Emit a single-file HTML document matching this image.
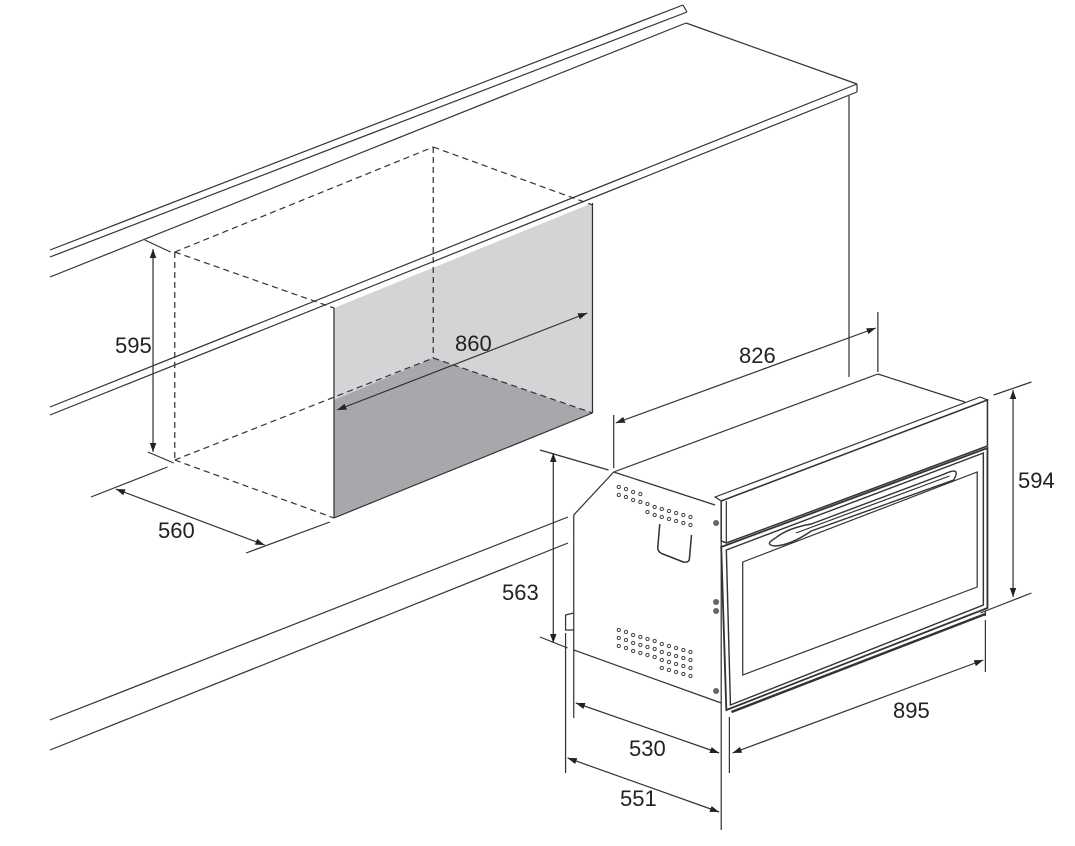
<!DOCTYPE html>
<html><head><meta charset="utf-8"><style>
html,body{margin:0;padding:0;background:#fff;}
svg{display:block;}
text{font-family:"Liberation Sans",Arial,sans-serif;font-size:22px;fill:#222;}
</style></head><body>
<svg width="1075" height="846" viewBox="0 0 1075 846" xmlns="http://www.w3.org/2000/svg">
<defs>
<marker id="a" viewBox="0 0 10 10" refX="10" refY="5" markerWidth="9" markerHeight="9" orient="auto-start-reverse" markerUnits="userSpaceOnUse"><path d="M0,1.5 L10,5 L0,8.5 Z" fill="#222"/></marker>
</defs>
<g stroke="#333" stroke-width="1.2" fill="none" transform="matrix(1.034 0 0 1 0 0)">
<polygon points="323,308 573,203 573,413 419,358 323,400" fill="#d3d4d6" stroke="none"/>
<polygon points="323,400 419,358 573,413 323,518" fill="#a7a8ab" stroke="none"/>
<line x1="323" y1="308" x2="323" y2="518"/>
<line x1="573" y1="203" x2="573" y2="413"/>
<line x1="573" y1="413" x2="323" y2="518"/>
<g stroke-dasharray="6,4">
<line x1="169" y1="252" x2="419" y2="147"/>
<line x1="419" y1="147" x2="573" y2="205"/>
<line x1="169" y1="252" x2="323" y2="308"/>
<line x1="419" y1="147" x2="419" y2="358"/>
<line x1="169" y1="252" x2="169" y2="460"/>
<line x1="169" y1="460" x2="323" y2="518"/>
<line x1="169" y1="460" x2="419" y2="358"/>
<line x1="419" y1="358" x2="573" y2="413"/>
</g>
<line x1="140" y1="240" x2="165" y2="252"/>
<line x1="143" y1="452" x2="168" y2="463"/>
<line x1="148" y1="249" x2="148" y2="452" marker-start="url(#a)" marker-end="url(#a)"/>
<line x1="88" y1="497" x2="162" y2="467"/>
<line x1="238" y1="553" x2="319" y2="522"/>
<line x1="112" y1="489" x2="256" y2="545" marker-start="url(#a)" marker-end="url(#a)"/>
<line x1="326" y1="410" x2="568" y2="313" marker-start="url(#a)" marker-end="url(#a)"/>
</g>
<g stroke="#333" stroke-width="1.2" fill="none">
<line x1="50" y1="250" x2="683" y2="5"/>
<line x1="50" y1="257" x2="687" y2="12"/>
<line x1="683" y1="5" x2="687" y2="12"/>
<line x1="50" y1="277" x2="686" y2="23"/>
<line x1="686" y1="23" x2="857" y2="84"/>
<line x1="857" y1="84" x2="857" y2="92"/>
<line x1="857" y1="84" x2="50" y2="407"/>
<line x1="857" y1="92" x2="50" y2="415"/>
<line x1="849" y1="96" x2="849" y2="377"/>
<line x1="568" y1="517" x2="50" y2="720"/>
<line x1="568" y1="543" x2="50" y2="750"/>
</g>
<g stroke="#333" stroke-width="1.2" fill="none" transform="matrix(1.024 0 0 1 -13 0)">
<line x1="870" y1="312" x2="870" y2="372"/>
<line x1="612" y1="415" x2="612" y2="468"/>
<line x1="614" y1="423" x2="868" y2="328" marker-start="url(#a)" marker-end="url(#a)"/>
<line x1="612" y1="472" x2="870" y2="374"/>
<line x1="870" y1="374" x2="955" y2="402"/>
<polyline points="612,472 573,515 573,650 717,703"/>
<line x1="612" y1="472" x2="711" y2="505"/>
<line x1="717" y1="503" x2="717" y2="703"/>
<polyline points="573,613 565,615 565,630 573,630"/>
<polygon points="711,497 970,397 977,400 717,501" fill="#fff"/>
<polygon points="717,501 977,400 977,446 722,543 717,541" fill="#fff" stroke-width="1.5"/>
<line x1="722" y1="501" x2="722" y2="543"/>
<polygon points="717,547 977,448 977,608 722,710" fill="#fff" stroke-width="1.8"/>
<polygon points="722,550 973,453 973,605 726,705" stroke-width="1.4"/>
<polygon points="738,562 967,472 967,587 738,675"/>
<line x1="727" y1="712" x2="975" y2="614" stroke-width="2.4"/>
<line x1="975" y1="611" x2="975" y2="616"/>
<path d="M770,538 Q782,528 805,524 L935,474 Q952,466 944,480 L805,531 Q785,545 770,546 Q758,545 770,538 Z" fill="#fff" stroke-width="1.4"/>
<path d="M790,533 L940,476"/>
<path d="M657,524 L655,548 Q655,552 660,554 L680,562 Q686,563 686,558 L688,535" stroke-width="1.5"/>
<g fill="#666" stroke="none">
<circle cx="712" cy="523" r="3"/><circle cx="712" cy="602" r="3"/><circle cx="712" cy="611" r="3"/><circle cx="712" cy="691" r="3"/>
</g>
<line x1="983" y1="395" x2="1020" y2="382"/>
<line x1="970" y1="613" x2="1020" y2="593"/>
<line x1="1002" y1="390" x2="1002" y2="597" marker-start="url(#a)" marker-end="url(#a)"/>
<line x1="540" y1="450" x2="607" y2="470"/>
<line x1="540" y1="637" x2="567" y2="648"/>
<line x1="553" y1="453" x2="553" y2="643" marker-start="url(#a)" marker-end="url(#a)"/>
<line x1="725" y1="717" x2="725" y2="773"/>
<line x1="975" y1="620" x2="975" y2="672"/>
<line x1="728" y1="753" x2="973" y2="660" marker-start="url(#a)" marker-end="url(#a)"/>
<line x1="573" y1="650" x2="573" y2="718"/>
<line x1="575" y1="703" x2="715" y2="753" marker-start="url(#a)" marker-end="url(#a)"/>
<line x1="565" y1="633" x2="565" y2="773"/>
<line x1="717" y1="703" x2="717" y2="830"/>
<line x1="567" y1="758" x2="715" y2="812" marker-start="url(#a)" marker-end="url(#a)"/>
<g stroke="#444" stroke-width="1">
<circle cx="617" cy="487" r="1.6"/><circle cx="624" cy="489" r="1.6"/><circle cx="631" cy="492" r="1.6"/><circle cx="638" cy="494" r="1.6"/>
<circle cx="617" cy="495" r="1.6"/><circle cx="624" cy="497" r="1.6"/><circle cx="631" cy="500" r="1.6"/><circle cx="638" cy="502" r="1.6"/><circle cx="645" cy="504" r="1.6"/><circle cx="652" cy="507" r="1.6"/><circle cx="659" cy="509" r="1.6"/><circle cx="666" cy="511" r="1.6"/><circle cx="673" cy="513" r="1.6"/><circle cx="680" cy="515" r="1.6"/><circle cx="687" cy="517" r="1.6"/>
<circle cx="645" cy="512" r="1.6"/><circle cx="652" cy="515" r="1.6"/><circle cx="659" cy="517" r="1.6"/><circle cx="666" cy="519" r="1.6"/><circle cx="673" cy="521" r="1.6"/><circle cx="680" cy="523" r="1.6"/><circle cx="687" cy="525" r="1.6"/>
<circle cx="617" cy="630" r="1.6"/><circle cx="624" cy="632" r="1.6"/><circle cx="631" cy="635" r="1.6"/><circle cx="638" cy="637" r="1.6"/><circle cx="645" cy="639" r="1.6"/><circle cx="652" cy="641" r="1.6"/><circle cx="659" cy="644" r="1.6"/><circle cx="666" cy="646" r="1.6"/><circle cx="673" cy="648" r="1.6"/><circle cx="680" cy="650" r="1.6"/><circle cx="687" cy="652" r="1.6"/>
<circle cx="617" cy="638" r="1.6"/><circle cx="624" cy="640" r="1.6"/><circle cx="631" cy="643" r="1.6"/><circle cx="638" cy="645" r="1.6"/><circle cx="645" cy="647" r="1.6"/><circle cx="652" cy="649" r="1.6"/><circle cx="659" cy="652" r="1.6"/><circle cx="666" cy="654" r="1.6"/><circle cx="673" cy="656" r="1.6"/><circle cx="680" cy="658" r="1.6"/><circle cx="687" cy="660" r="1.6"/>
<circle cx="617" cy="646" r="1.6"/><circle cx="624" cy="648" r="1.6"/><circle cx="631" cy="651" r="1.6"/><circle cx="638" cy="653" r="1.6"/><circle cx="645" cy="655" r="1.6"/><circle cx="652" cy="657" r="1.6"/><circle cx="659" cy="660" r="1.6"/><circle cx="666" cy="662" r="1.6"/><circle cx="673" cy="664" r="1.6"/><circle cx="680" cy="666" r="1.6"/><circle cx="687" cy="668" r="1.6"/>
<circle cx="659" cy="668" r="1.6"/><circle cx="666" cy="670" r="1.6"/><circle cx="673" cy="672" r="1.6"/><circle cx="680" cy="674" r="1.6"/><circle cx="687" cy="676" r="1.6"/>
</g>
</g>
<text x="115" y="353">595</text>
<text x="455" y="351">860</text>
<text x="158" y="538">560</text>
<text x="739" y="363">826</text>
<text x="1018" y="488">594</text>
<text x="502" y="600">563</text>
<text x="893" y="718">895</text>
<text x="629" y="756">530</text>
<text x="620" y="806">551</text>
</svg>
</body></html>
